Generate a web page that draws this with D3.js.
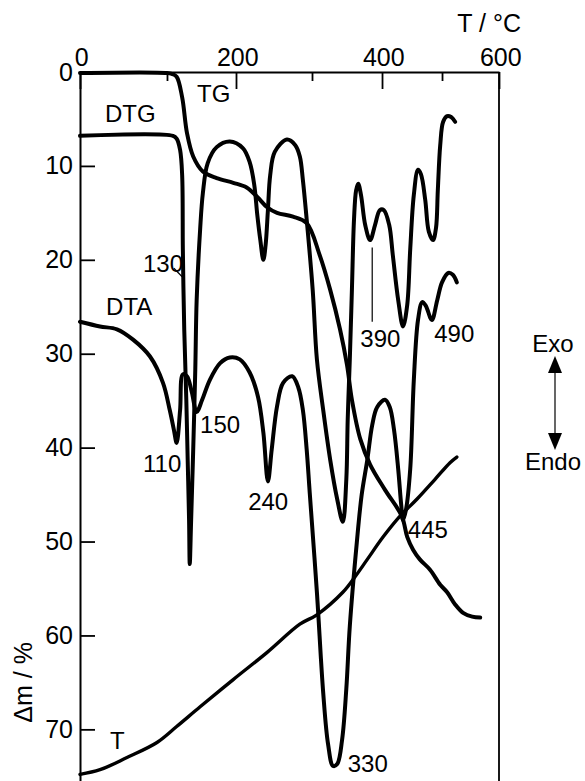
<!DOCTYPE html>
<html>
<head>
<meta charset="utf-8">
<script src="https://cdn.jsdelivr.net/npm/d3@7"></script>
<style>
  body { margin: 0; background: #fff; }
  svg text { font-family: "Liberation Sans", Arial, sans-serif; fill: #000; }
</style>
</head>
<body>
<svg id="chart" width="585" height="781"></svg>
<script>
// thermal analysis curves: x = temperature (deg C on the top scale), y = chart units (Δm %)

var tempTicks = [0, 200, 400, 600];
var tempMinorTicks = [100, 300, 500];
var massTicks = [0, 10, 20, 30, 40, 50, 60, 70];

var tgTemp = [0, 100, 107, 114, 122, 129, 138, 152, 172, 196, 214, 228, 241, 254, 275, 293, 311, 326, 340, 350, 357, 369, 383, 405, 433, 442, 452, 463, 480, 497, 509, 523, 537, 553, 567];
var tgMass = [0.1, 0.1, 0.2, 0.5, 2.7, 6.5, 9.0, 10.6, 11.3, 11.8, 12.3, 13.3, 14.4, 15.0, 15.4, 16.1, 19.5, 23.2, 27.4, 31.2, 34.9, 39.1, 41.8, 44.5, 47.3, 49.5, 50.9, 51.9, 53.0, 54.6, 55.4, 56.7, 57.6, 58.0, 58.1];

var dtgTemp = [0, 108.7, 114, 119, 122, 123, 125, 128, 130, 132, 133, 135, 138, 141, 143, 148, 152, 159, 172, 191, 209, 218, 224, 228, 232, 236, 239, 242, 245, 251, 267, 278, 284, 288, 293, 301, 307, 316, 326, 336, 344, 349, 351, 354, 357, 360, 363, 366, 370, 376, 383, 390, 397, 403, 412, 418, 427, 435, 442, 447, 453, 460, 465, 472, 478, 485, 490, 493, 497, 502, 509, 516, 523];
var dtgVal = [6.8, 6.8, 7.1, 8.3, 11.0, 18.9, 27.4, 34.9, 41.3, 47.7, 52.4, 47.7, 40.2, 31.7, 24.3, 16.8, 12.9, 9.7, 8.0, 7.4, 8.1, 9.6, 12.0, 15.2, 17.9, 20.0, 18.4, 14.7, 11.0, 8.5, 7.2, 7.8, 9.0, 11.5, 15.7, 23.2, 30.6, 36.0, 41.3, 45.5, 47.9, 43.4, 37.0, 30.6, 23.2, 15.7, 12.6, 11.9, 13.1, 16.3, 17.9, 16.3, 14.7, 14.7, 16.3, 19.5, 24.3, 27.1, 24.8, 18.9, 13.1, 10.4, 10.9, 13.6, 17.0, 17.9, 16.6, 12.6, 7.8, 5.3, 4.7, 4.8, 5.3];

var dtaTemp = [0, 23, 42.5, 61, 80.5, 95.4, 104, 110, 114, 119, 123, 129, 136, 143, 151, 162, 177, 191, 205, 218, 229, 236, 242, 247, 254, 262, 274, 282, 288, 293, 297, 307, 316, 323, 330, 336, 343, 349, 354, 364, 371, 379, 386, 393, 405, 413, 420, 427, 432, 435, 440, 447, 453, 460, 467, 473, 483, 492, 500, 511, 519, 526];
var dtaVal = [26.6, 27.1, 27.4, 28.5, 30.3, 33.1, 36.0, 38.1, 39.5, 36.0, 32.2, 32.4, 34.1, 36.2, 34.9, 32.8, 31.0, 30.4, 30.6, 32.0, 34.6, 38.4, 43.6, 40.2, 35.6, 33.1, 32.4, 33.6, 36.0, 40.2, 44.8, 55.4, 66.1, 71.6, 73.9, 73.7, 71.1, 65.7, 59.0, 50.1, 45.0, 41.3, 37.6, 35.7, 34.9, 35.7, 38.1, 42.3, 46.1, 47.7, 46.6, 42.3, 32.8, 26.4, 24.5, 24.9, 26.4, 24.3, 22.4, 21.4, 21.6, 22.4];

var tTemp = [0, 23, 54, 88.5, 114, 148, 196, 241, 284, 307, 344, 361, 379, 402, 430, 458, 488, 514, 526];
var tVal = [74.8, 74.3, 73.0, 71.4, 69.7, 67.6, 64.7, 61.8, 58.8, 57.8, 55.4, 53.8, 51.9, 49.5, 47.3, 45.5, 43.4, 41.6, 41.0];

// curve names and peak temperatures written on the chart, anchored at (temp, value)
var labelText = ["TG", "DTG", "DTA", "T", "130", "110", "150", "240", "330", "390", "490", "445"];
var labelTemp = [143.5, 28.7, 30, 34.5, 72.4, 72.4, 148, 216, 351, 369, 487, 443];
var labelVal = [3.2, 5.3, 25.9, 72.1, 21.3, 42.6, 38.4, 46.6, 74.5, 29.3, 28.8, 49.6];

// thin leader lines: [temp1, val1, temp2, val2]
var leaders = [[110, 20.9, 122, 21.8], [386, 18.7, 386, 26.6]];

var svg = d3.select("#chart"),
    margin = {top: 72, right: 86, bottom: 0, left: 80},
    width = +svg.attr("width") - margin.left - margin.right,
    height = +svg.attr("height") - margin.top - margin.bottom;

// the temperature scale of the instrument is not linear
var breaks = [0, 0.2076, 0.3723, 0.5537, 0.7208, 0.8640, 1];
var x = d3.scaleLinear()
    .domain([0, 100, 200, 300, 400, 500, 600])
    .range(breaks.map(function(b) { return b * width; }));
var y = d3.scaleLinear().domain([0, 75.5]).range([0, height]);

var g = svg.append("g")
    .attr("transform", "translate(" + margin.left + "," + margin.top + ")");

// frame
g.append("line").attr("x1", width).attr("x2", width).attr("y1", 0).attr("y2", height)
    .attr("stroke", "#000").attr("stroke-width", 1.8);

var yAxis = g.append("g")
    .call(d3.axisLeft(y).tickValues(massTicks).tickSize(-15).tickSizeOuter(0).tickPadding(7));
var xAxis = g.append("g")
    .call(d3.axisTop(x).tickValues(tempTicks).tickSize(-17).tickSizeOuter(0).tickPadding(6));
g.append("g")
    .call(d3.axisTop(x).tickValues(tempMinorTicks).tickSize(-9).tickSizeOuter(0).tickFormat(""))
    .select(".domain").remove();

g.selectAll(".domain").attr("stroke-width", 2);
g.selectAll(".tick line").attr("stroke-width", 1.8);
g.selectAll(".tick text").style("font-size", "25px").attr("fill", "#000");
xAxis.selectAll(".tick text").attr("dx", "0.05em");

svg.append("text")
    .attr("transform", "translate(32," + (margin.top + y(65)) + ") rotate(-90)")
    .attr("text-anchor", "middle")
    .style("font-size", "25px")
    .text("Δm / %");

svg.append("text")
    .attr("x", margin.left + width + 22)
    .attr("y", 32)
    .attr("text-anchor", "end")
    .style("font-size", "25px")
    .text("T / °C");

var line = d3.line()
    .x(function(d) { return x(d[0]); })
    .y(function(d) { return y(d[1]); })
    .curve(d3.curveCatmullRom.alpha(0.5));

function pairs(a, b) { return a.map(function(v, i) { return [v, b[i]]; }); }

var curves = [
    {data: pairs(tgTemp, tgMass), w: 4},
    {data: pairs(dtgTemp, dtgVal), w: 4},
    {data: pairs(dtaTemp, dtaVal), w: 4},
    {data: pairs(tTemp, tVal), w: 3.4}
];

g.selectAll(".curve")
    .data(curves)
    .enter().append("path")
    .attr("class", "curve")
    .attr("d", function(d) { return line(d.data); })
    .attr("fill", "none")
    .attr("stroke", "#000")
    .attr("stroke-width", function(d) { return d.w; })
    .attr("stroke-linecap", "round")
    .attr("stroke-linejoin", "round");

g.selectAll(".leader")
    .data(leaders)
    .enter().append("line")
    .attr("class", "leader")
    .attr("x1", function(d) { return x(d[0]); })
    .attr("y1", function(d) { return y(d[1]); })
    .attr("x2", function(d) { return x(d[2]); })
    .attr("y2", function(d) { return y(d[3]); })
    .attr("stroke", "#000")
    .attr("stroke-width", 1.2);

g.selectAll(".lbl")
    .data(labelText)
    .enter().append("text")
    .attr("class", "lbl")
    .attr("x", function(d, i) { return x(labelTemp[i]); })
    .attr("y", function(d, i) { return y(labelVal[i]); })
    .style("font-size", "24px")
    .text(function(d) { return d; });

// Exo / Endo direction marker on the right
var ax = margin.left + width + 56;
svg.append("text").attr("x", ax - 2).attr("y", 352).attr("text-anchor", "middle")
    .style("font-size", "24px").text("Exo");
svg.append("text").attr("x", ax - 2).attr("y", 470).attr("text-anchor", "middle")
    .style("font-size", "24px").text("Endo");
svg.append("line").attr("x1", ax).attr("x2", ax).attr("y1", 370).attr("y2", 436)
    .attr("stroke", "#000").attr("stroke-width", 1.2);
svg.append("path").attr("d", "M" + ax + ",356 L" + (ax - 7) + ",373 L" + (ax + 7) + ",373 Z");
svg.append("path").attr("d", "M" + ax + ",450 L" + (ax - 7) + ",433 L" + (ax + 7) + ",433 Z");
</script>
</body>
</html>
